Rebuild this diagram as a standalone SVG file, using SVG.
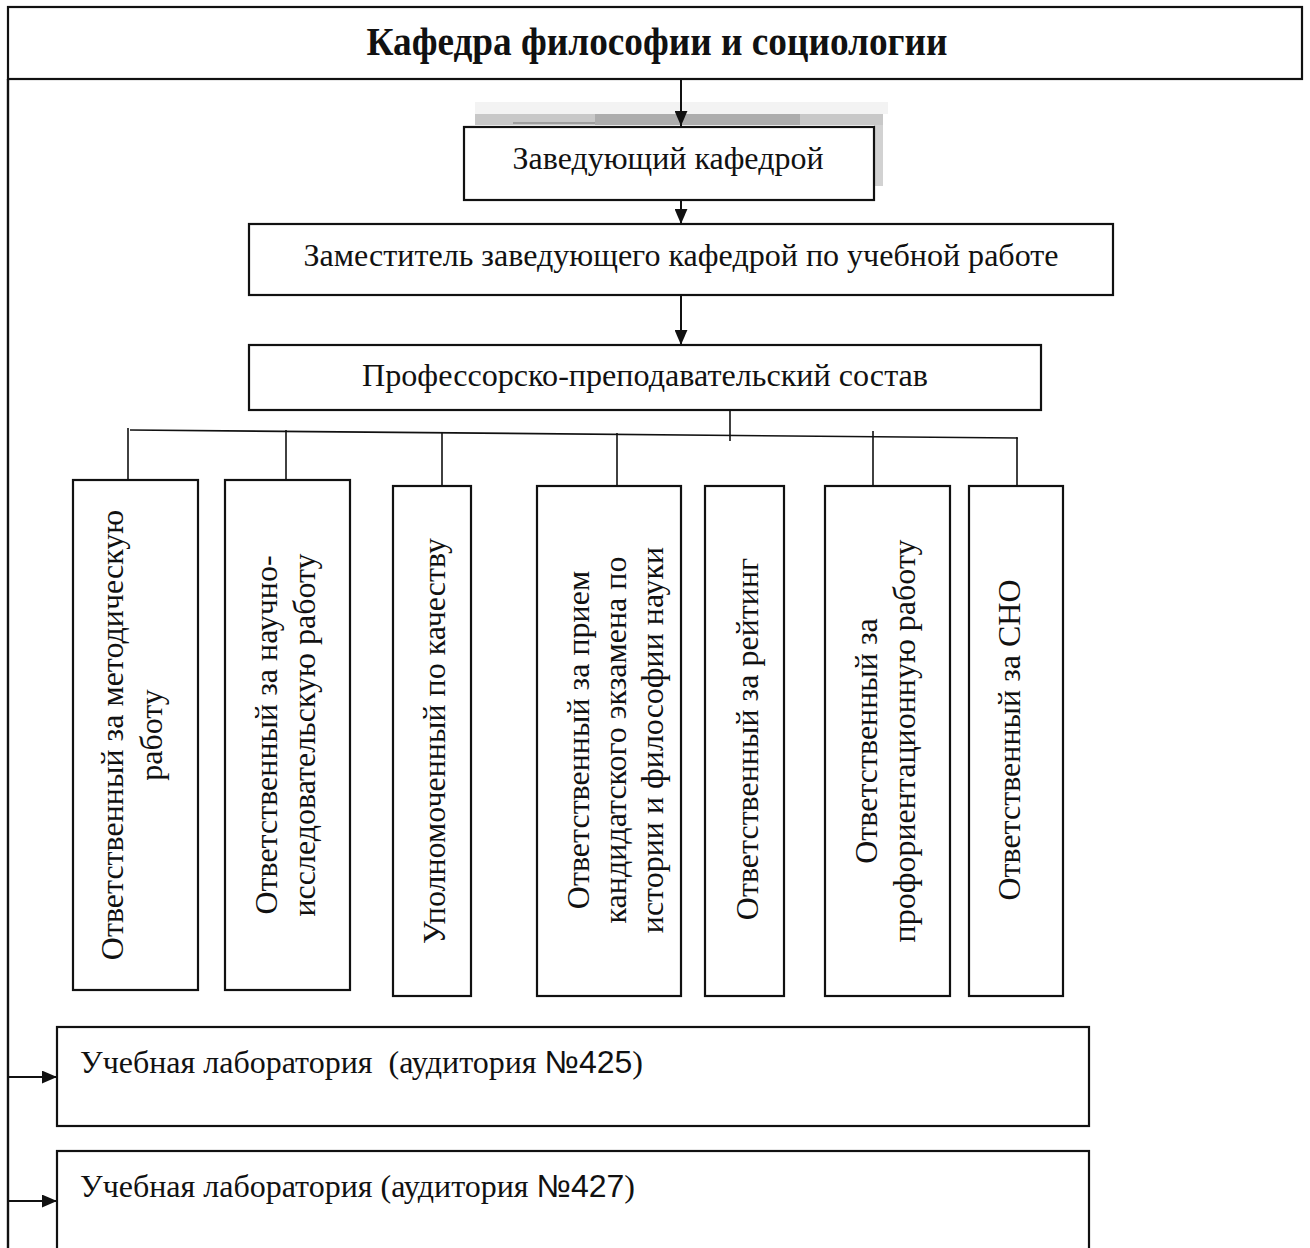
<svg xmlns="http://www.w3.org/2000/svg" width="1310" height="1248" viewBox="0 0 1310 1248">
  <defs>
    <marker id="ah" viewBox="0 0 14 12" refX="14" refY="6" markerWidth="15" markerHeight="13" markerUnits="userSpaceOnUse" orient="auto">
      <path d="M0,0 L14,6 L0,12 Z" fill="#111"/>
    </marker>
  </defs>
  <style>
    .box { fill: #fff; stroke: #111; stroke-width: 2.2; }
    .conn { fill: none; stroke: #111; stroke-width: 1.6; }
    .arr { fill: none; stroke: #111; stroke-width: 2; marker-end: url(#ah); }
    .t { font-family: "Liberation Serif", "Times New Roman", serif; font-size: 31px; fill: #111; }
    .lab { font-family: "Liberation Serif", "Times New Roman", serif; font-size: 32px; fill: #111; }
    .v { font-family: "Liberation Serif", "Times New Roman", serif; font-size: 32px; fill: #111; text-anchor: middle; }
    .sans { font-family: "Liberation Sans", Arial, sans-serif; }
    .title { font-family: "Liberation Serif", "Times New Roman", serif; font-size: 40px; font-weight: bold; fill: #111; }
  </style>
  <rect width="1310" height="1248" fill="#fff"/>

  <g id="frame">
    <rect x="8" y="7" width="1294" height="72" class="box" stroke-width="2.6"/>
    <line x1="8" y1="79" x2="8" y2="1248" stroke="#111" stroke-width="2.4"/>
  </g>

  <g id="title">
    <text class="title" x="657" y="55" text-anchor="middle" textLength="581" lengthAdjust="spacingAndGlyphs">Кафедра философии и социологии</text>
  </g>

  <g id="shadow">
    <rect x="475" y="102" width="413" height="12" fill="#f3f3f3"/>
    <rect x="475" y="114" width="408" height="11" fill="#c8c8c8"/>
    <rect x="595" y="114" width="205" height="11" fill="#adadad"/>
    <line x1="513" y1="123" x2="595" y2="123" stroke="#777" stroke-width="1"/>
    <rect x="874" y="125" width="9" height="61" fill="#d2d2d2"/>
  </g>

  <g id="connectors">
    <line class="arr" x1="681" y1="79" x2="681" y2="126"/>
    <line class="arr" x1="681" y1="200" x2="681" y2="224"/>
    <line class="arr" x1="681" y1="296" x2="681" y2="345"/>
    <line class="conn" x1="730" y1="410" x2="730" y2="441"/>
    <line class="conn" x1="130" y1="430" x2="1018" y2="438"/>
    <line class="conn" x1="128" y1="428" x2="128" y2="480"/>
    <line class="conn" x1="286" y1="430" x2="286" y2="484"/>
    <line class="conn" x1="442" y1="432" x2="442" y2="486"/>
    <line class="conn" x1="617" y1="433" x2="617" y2="486"/>
    <line class="conn" x1="873" y1="431" x2="873" y2="486"/>
    <line class="conn" x1="1017" y1="437" x2="1017" y2="492"/>
    <line class="arr" x1="8" y1="1077" x2="57" y2="1077"/>
    <line class="arr" x1="8" y1="1201" x2="57" y2="1201"/>
  </g>

  <g id="head">
    <rect x="464" y="127" width="410" height="73" class="box"/>
    <text class="t" x="668" y="169" text-anchor="middle" textLength="311" lengthAdjust="spacingAndGlyphs">Заведующий кафедрой</text>
  </g>

  <g id="deputy">
    <rect x="249" y="224" width="864" height="71" class="box"/>
    <text class="t" x="681" y="266" text-anchor="middle" textLength="755" lengthAdjust="spacingAndGlyphs">Заместитель заведующего кафедрой по учебной работе</text>
  </g>

  <g id="staff">
    <rect x="249" y="345" width="792" height="65" class="box"/>
    <text class="t" x="645" y="386" text-anchor="middle" textLength="566" lengthAdjust="spacingAndGlyphs">Профессорско-преподавательский состав</text>
  </g>

  <g id="r1">
    <rect x="73" y="480" width="125" height="510" class="box"/>
    <text class="v" transform="translate(123,735) rotate(-90)">Ответственный за методическую</text>
    <text class="v" transform="translate(162,735) rotate(-90)">работу</text>
  </g>

  <g id="r2">
    <rect x="225" y="480" width="125" height="510" class="box"/>
    <text class="v" transform="translate(277,735) rotate(-90)">Ответственный за научно-</text>
    <text class="v" transform="translate(315,735) rotate(-90)">исследовательскую работу</text>
  </g>

  <g id="r3">
    <rect x="393" y="486" width="78" height="510" class="box"/>
    <text class="v" transform="translate(445,741) rotate(-90)">Уполномоченный по качеству</text>
  </g>

  <g id="r4">
    <rect x="537" y="486" width="144" height="510" class="box"/>
    <text class="v" transform="translate(589,740) rotate(-90)">Ответственный за прием</text>
    <text class="v" transform="translate(626,740) rotate(-90)">кандидатского экзамена по</text>
    <text class="v" transform="translate(663,740) rotate(-90)">истории и философии науки</text>
  </g>

  <g id="r5">
    <rect x="705" y="486" width="79" height="510" class="box"/>
    <text class="v" transform="translate(758,739) rotate(-90)">Ответственный за рейтинг</text>
  </g>

  <g id="r6">
    <rect x="825" y="486" width="125" height="510" class="box"/>
    <text class="v" transform="translate(877,741) rotate(-90)">Ответственный за</text>
    <text class="v" transform="translate(915,741) rotate(-90)">профориентационную работу</text>
  </g>

  <g id="r7">
    <rect x="969" y="486" width="94" height="510" class="box"/>
    <text class="v" transform="translate(1020,740) rotate(-90)">Ответственный за СНО</text>
  </g>

  <g id="lab425">
    <rect x="57" y="1027" width="1032" height="99" class="box"/>
    <text class="lab" x="80" y="1073" xml:space="preserve">Учебная лаборатория  (аудитория <tspan class="sans">№425</tspan>)</text>
  </g>

  <g id="lab427">
    <rect x="57" y="1151" width="1032" height="110" class="box"/>
    <text class="lab" x="80" y="1197">Учебная лаборатория (аудитория <tspan class="sans">№427</tspan>)</text>
  </g>
</svg>
